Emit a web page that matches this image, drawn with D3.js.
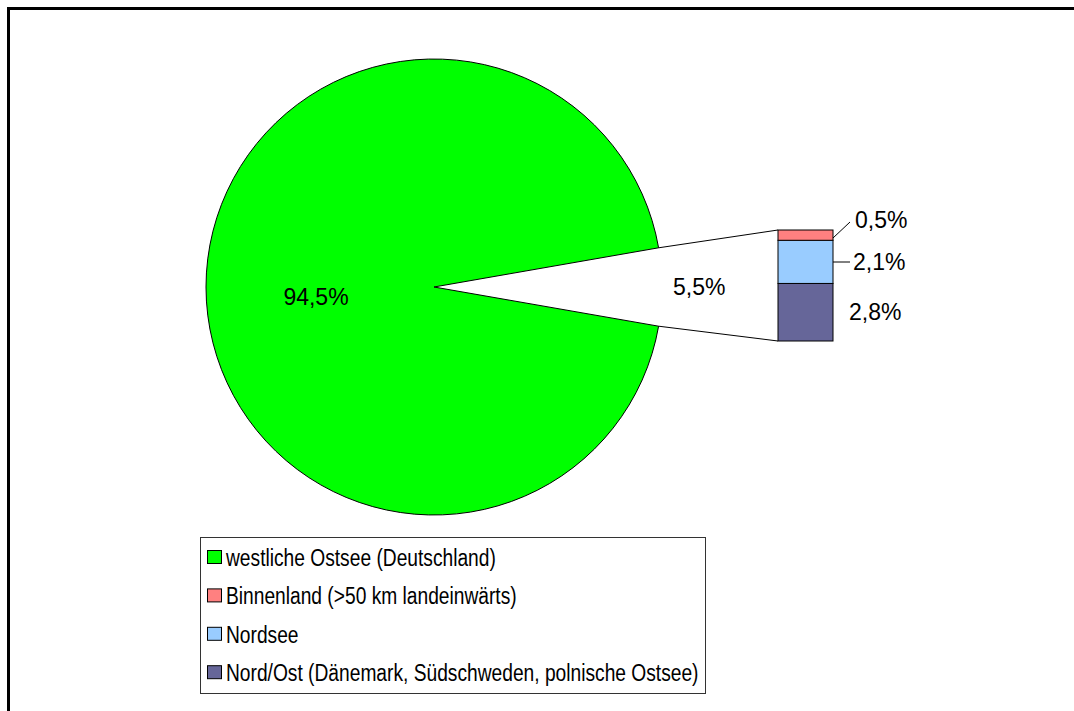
<!DOCTYPE html>
<html>
<head>
<meta charset="utf-8">
<script src="https://cdn.jsdelivr.net/npm/d3@7"></script>
<style>
  body { margin: 0; background: #fff; }
  svg { display: block; font-family: Arial, "Liberation Sans", sans-serif; }
</style>
</head>
<body>
<div id="chart"></div>
<script>
// pie part: main slice + "other" slice that is split into the bar
var pieNames = ["westliche Ostsee (Deutschland)", "Rest"];
var pieValues = [94.5, 5.5];
var pieLabels = ["94,5%", "5,5%"];

// bar part, bottom to top
var barNames = ["Nord/Ost (Dänemark, Südschweden, polnische Ostsee)", "Nordsee", "Binnenland (>50 km landeinwärts)"];
var barValues = [2.8, 2.1, 0.5];
var barLabels = ["2,8%", "2,1%", "0,5%"];

// legend order as in the picture
var legendNames = ["westliche Ostsee (Deutschland)", "Binnenland (>50 km landeinwärts)", "Nordsee", "Nord/Ost (Dänemark, Südschweden, polnische Ostsee)"];

var colors = {
    "westliche Ostsee (Deutschland)": "#00ff00",
    "Binnenland (>50 km landeinwärts)": "#ff8080",
    "Nordsee": "#99ccff",
    "Nord/Ost (Dänemark, Südschweden, polnische Ostsee)": "#666699"
};

var width = 1074, height = 711;
var cx = 434, cy = 287, radius = 228;

var svg = d3.select("#chart").append("svg")
    .attr("width", width)
    .attr("height", height);

// outer frame
svg.append("rect")
    .attr("x", 8.5).attr("y", 8.5)
    .attr("width", width + 40).attr("height", height + 40)
    .attr("fill", "#fff")
    .attr("stroke", "#000")
    .attr("stroke-width", 3);

var half = Math.PI * pieValues[1] / d3.sum(pieValues);
var pie = d3.pie().sort(null)
    .startAngle(Math.PI / 2 + half)
    .endAngle(Math.PI / 2 + half + 2 * Math.PI);
var arcs = pie(pieValues);
var arc = d3.arc().innerRadius(0).outerRadius(radius);

var g = svg.append("g").attr("transform", "translate(" + cx + "," + cy + ")");
g.append("path")
    .attr("d", arc(arcs[0]))
    .attr("fill", colors[pieNames[0]])
    .attr("stroke", "#000")
    .attr("stroke-width", 1);

g.append("text")
    .attr("x", -118).attr("y", 18)
    .attr("text-anchor", "middle")
    .attr("font-size", 23)
    .text(pieLabels[0]);

// "other" slice label
g.append("text")
    .attr("x", 239).attr("y", 8)
    .attr("font-size", 23)
    .text(pieLabels[1]);

// bar of pie
var barX = 778, barW = 55;
var y = d3.scaleLinear()
    .domain([0, d3.sum(barValues)])
    .range([341, 230]);

var cum = 0;
var segs = barValues.map(function(v, i) {
    var s = { name: barNames[i], label: barLabels[i], y0: cum, y1: cum + v };
    cum += v;
    return s;
});

svg.selectAll("rect.seg")
    .data(segs)
    .enter().append("rect")
    .attr("class", "seg")
    .attr("x", barX)
    .attr("y", function(d) { return y(d.y1); })
    .attr("width", barW)
    .attr("height", function(d) { return y(d.y0) - y(d.y1); })
    .attr("fill", function(d) { return colors[d.name]; })
    .attr("stroke", "#000")
    .attr("stroke-width", 1);

// connector lines from pie edge to bar corners
function edgePoint(a) {
    return [cx + radius * Math.sin(a), cy - radius * Math.cos(a)];
}
var pTop = edgePoint(arcs[1].startAngle);
var pBot = edgePoint(arcs[1].endAngle);
svg.append("line")
    .attr("x1", pTop[0]).attr("y1", pTop[1])
    .attr("x2", barX).attr("y2", y(cum))
    .attr("stroke", "#000");
svg.append("line")
    .attr("x1", pBot[0]).attr("y1", pBot[1])
    .attr("x2", barX).attr("y2", y(0))
    .attr("stroke", "#000");

// bar labels
var labelPos = [
    { x: 849, y: 320, lead: null },
    { x: 853, y: 270, lead: [[barX + barW, 262], [850, 262]] },
    { x: 855, y: 228, lead: [[barX + barW, 238], [850, 222]] }
];
segs.forEach(function(s, i) {
    var p = labelPos[i];
    svg.append("text")
        .attr("x", p.x).attr("y", p.y)
        .attr("font-size", 23)
        .text(s.label);
    if (p.lead) {
        svg.append("line")
            .attr("x1", p.lead[0][0]).attr("y1", p.lead[0][1])
            .attr("x2", p.lead[1][0]).attr("y2", p.lead[1][1])
            .attr("stroke", "#000");
    }
});

// legend
var legend = svg.append("g");
legend.append("rect")
    .attr("x", 200.5).attr("y", 537.5)
    .attr("width", 505).attr("height", 156)
    .attr("fill", "#fff")
    .attr("stroke", "#333")
    .attr("stroke-width", 1);

var rows = legend.selectAll("g.row")
    .data(legendNames)
    .enter().append("g")
    .attr("class", "row")
    .attr("transform", function(d, i) { return "translate(0," + (566 + i * 38.4) + ")"; });

rows.append("rect")
    .attr("x", 207.5).attr("y", -15.5)
    .attr("width", 14).attr("height", 13)
    .attr("fill", function(d) { return colors[d]; })
    .attr("stroke", "#000")
    .attr("stroke-width", 1);

rows.append("text")
    .attr("transform", "translate(226,0) scale(0.835,1)")
    .attr("font-size", 23)
    .text(function(d) { return d; });
</script>
</body>
</html>
